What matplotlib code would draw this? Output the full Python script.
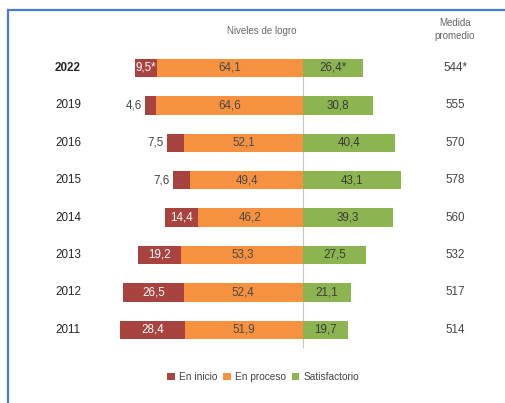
import matplotlib
matplotlib.use("Agg")
import matplotlib.pyplot as plt
from matplotlib.patches import Rectangle

plt.rcParams["font.family"] = ["Liberation Sans", "DejaVu Sans"]

years = ["2022", "2019", "2016", "2015", "2014", "2013", "2012", "2011"]
en_inicio = [9.5, 4.6, 7.5, 7.6, 14.4, 19.2, 26.5, 28.4]
en_proceso = [64.1, 64.6, 52.1, 49.4, 46.2, 53.3, 52.4, 51.9]
satisfactorio = [26.4, 30.8, 40.4, 43.1, 39.3, 27.5, 21.1, 19.7]
medida = ["544*", "555", "570", "578", "560", "532", "517", "514"]
inicio_marks = ["*", "", "", "", "", "", "", ""]
satis_marks = ["*", "", "", "", "", "", "", ""]

RED = "#a8433f"
ORANGE = "#f5913f"
GREEN = "#8cb552"
TXT = "#444444"


def fmt(v):
    return f"{v:.1f}".replace(".", ",")


fig = plt.figure(figsize=(5.05, 4.03), dpi=100)
ax = fig.add_axes([0, 0, 1, 1])
# 0 sits on the divider at x=303px, 2.28 px per percent point
ax.set_xlim(-303 / 2.28, (505 - 303) / 2.28)
ax.set_ylim((403 - 68) / 37.4, -68 / 37.4)
ax.axis("off")

ys = list(range(len(years)))
h = 0.49
neg_proc = [-p for p in en_proceso]
b_ini = ax.barh(ys, [-v for v in en_inicio], left=neg_proc, height=h, color=RED, label="En inicio")
b_pro = ax.barh(ys, neg_proc, height=h, color=ORANGE, label="En proceso")
b_sat = ax.barh(ys, satisfactorio, height=h, color=GREEN, label="Satisfactorio")

ax.vlines(0, -0.28, 7.5, color="#c8c8c8", lw=0.8, zorder=0)

for i, y in enumerate(years):
    bold = "bold" if i == 0 else "normal"
    ax.text(-108.8, i, y, ha="left", va="center", fontsize=8.4, color="#262626", fontweight=bold)
    ax.text(66.7, i, medida[i], ha="center", va="center", fontsize=8.4, color=TXT)

    p, s, e = en_proceso[i], satisfactorio[i], en_inicio[i]
    ax.text(-p / 2, i, fmt(p), ha="center", va="center", fontsize=8.4, color="#4a4a4a")
    ax.text(s / 2, i, fmt(s) + satis_marks[i], ha="center", va="center", fontsize=8.4, color="#3a3a3a")
    lab = fmt(e) + inicio_marks[i]
    if e >= 9:
        ax.text(-p - e / 2, i, lab, ha="center", va="center", fontsize=8.4, color="white")
    else:
        ax.text(-p - e - 1.5, i, lab, ha="right", va="center", fontsize=8.4, color=TXT)

ax.text(-18, -1.0, "Niveles de logro", ha="center", va="center", fontsize=7, color="#666666")
ax.text(66.7, -1.03, "Medida\npromedio", ha="center", va="center", fontsize=7,
        color="#666666", linespacing=1.45)

fig.legend(handles=[b_ini, b_pro, b_sat], loc="center", bbox_to_anchor=(263 / 505, 1 - 377 / 403),
           ncol=3, frameon=False, fontsize=7.3, handlelength=0.75, handleheight=0.75,
           handletextpad=0.4, columnspacing=0.6, labelcolor="#444444")

# blue frame around the chart, cut by the image edge
fig.patches.append(Rectangle((8 / 505, -0.05), 1.1, 1 - 10 / 403 + 0.05, transform=fig.transFigure,
                             fill=False, edgecolor="#4a7bd2", lw=1.6))

fig.savefig("out.png", dpi=100)
